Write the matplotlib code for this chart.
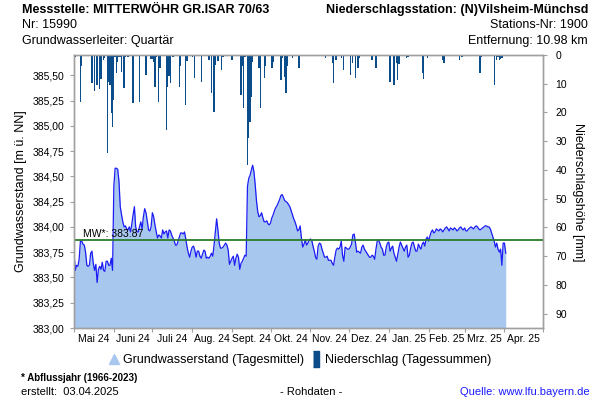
import matplotlib
matplotlib.use("Agg")
import matplotlib.pyplot as plt
import matplotlib.dates as mdates
from matplotlib.lines import Line2D
import pandas as pd

plt.rcParams['font.family'] = ['Liberation Sans', 'DejaVu Sans']

# Groundwater level, daily means from 2024-05-01 (m ü. NN)
start = pd.Timestamp('2024-05-01')
level = [
    383.74, 383.57, 383.62, 383.61, 383.68, 383.86, 383.86, 383.83, 383.82, 383.75,
    383.62, 383.61, 383.62, 383.74, 383.76, 383.64, 383.57, 383.63, 383.45, 383.58,
    383.61, 383.58, 383.65, 383.57, 383.56, 383.66, 383.66, 383.62, 383.62, 383.69,
    383.57, 384.40, 384.58, 384.58, 384.57, 384.45, 384.20, 384.12, 384.05, 384.00,
    384.01, 383.98, 383.97, 384.00, 383.95, 384.03, 384.12, 384.20, 384.00, 383.95,
    383.95, 384.00, 384.05, 383.98, 384.10, 384.18, 384.14, 384.06, 383.97, 383.96,
    384.00, 384.14, 384.10, 384.02, 383.95, 383.89, 383.92, 383.91, 383.89, 383.97,
    383.93, 383.95, 383.96, 383.89, 383.97, 383.96, 383.92, 383.89, 383.86, 383.82,
    383.82, 383.86, 383.90, 383.94, 383.94, 383.93, 383.95, 383.88, 383.80, 383.74,
    383.70, 383.76, 383.80, 383.81, 383.77, 383.70, 383.76, 383.76, 383.71, 383.69,
    383.73, 383.77, 383.76, 383.69, 383.70, 383.69, 383.71, 383.74, 383.71, 383.82,
    383.95, 384.08, 383.97, 383.84, 383.79, 383.79, 383.80, 383.82, 383.84, 383.82,
    383.77, 383.63, 383.66, 383.69, 383.71, 383.62, 383.69, 383.73, 383.70, 383.58,
    383.64, 383.66, 383.69, 383.72, 383.71, 384.40, 384.48, 384.51, 384.56, 384.61,
    384.55, 384.42, 384.26, 384.15, 384.10, 384.11, 384.14, 384.09, 384.05, 384.05,
    384.06, 384.03, 384.02, 384.04, 384.09, 384.12, 384.16, 384.19, 384.21, 384.24,
    384.27, 384.31, 384.32, 384.29, 384.26, 384.25, 384.24, 384.22, 384.20, 384.16,
    384.12, 384.08, 384.05, 384.01, 383.96, 383.97, 384.01, 383.89, 383.80, 383.83,
    383.87, 383.82, 383.84, 383.87, 383.88, 383.87, 383.81, 383.76, 383.70, 383.68,
    383.81, 383.84, 383.83, 383.78, 383.74, 383.70, 383.70, 383.71, 383.67, 383.67,
    383.67, 383.64, 383.62, 383.70, 383.77, 383.79, 383.78, 383.80, 383.86, 383.72,
    383.66, 383.80, 383.79, 383.78, 383.78, 383.80, 383.83, 383.92, 383.93, 383.85,
    383.75, 383.76, 383.75, 383.74, 383.80, 383.82, 383.78, 383.76, 383.74, 383.72,
    383.70, 383.70, 383.72, 383.71, 383.68, 383.78, 383.86, 383.87, 383.84, 383.80,
    383.78, 383.72, 383.72, 383.80, 383.84, 383.85, 383.76, 383.79, 383.81, 383.74,
    383.70, 383.66, 383.73, 383.80, 383.85, 383.82, 383.79, 383.76, 383.80, 383.82,
    383.70, 383.72, 383.79, 383.84, 383.85, 383.80, 383.76, 383.76, 383.83, 383.80,
    383.78, 383.83, 383.85, 383.81, 383.88, 383.90, 383.86, 383.91, 383.95, 383.97,
    383.94, 383.95, 383.98, 383.97, 383.96, 383.98, 383.97, 383.95, 383.97, 383.99,
    384.00, 383.98, 383.96, 383.99, 383.98, 383.97, 383.99, 383.98, 383.96, 383.97,
    383.99, 384.00, 383.98, 383.97, 383.99, 383.96, 383.96, 383.98, 383.99, 384.00,
    383.99, 383.98, 384.00, 384.01, 384.00, 383.98, 383.97, 383.98, 383.99, 384.00,
    384.01, 384.01, 384.00, 384.00, 383.98, 383.94, 383.90, 383.86, 383.80, 383.84,
    383.78, 383.75, 383.78, 383.62, 383.84, 383.84, 383.74,
]

# Daily precipitation sums (day offset from start, mm)
precip_day = [
    1, 5, 6, 14, 16, 18, 20, 21, 23, 24, 26, 27, 28, 29, 30, 31, 32, 33, 34, 35,
    36, 37, 39, 40, 42, 44, 46, 51, 56, 60, 61, 62, 63, 64, 66, 67, 72, 73, 74, 75,
    77, 82, 83, 87, 88, 92, 94, 99, 105, 107, 109, 110, 112, 115, 116, 123, 130, 131, 132, 133,
    135, 136, 137, 138, 139, 144, 145, 148, 149, 152, 154, 155, 161, 162, 164, 165, 166, 170, 175, 190,
    196, 201, 202, 204, 208, 210, 212, 215, 217, 219, 221, 222, 228, 232, 235, 246, 249, 251, 252, 253,
    259, 260, 267, 271, 272, 275, 287, 288, 300, 302, 316, 317, 327, 329, 330, 331, 332, 333,
]
precip_mm = [
    0.7, 16.3, 4.0, 9.6, 12.4, 10.5, 12.0, 8.4, 1.7, 1.2, 34.0, 9.3, 10.5, 20.3, 25.0, 15.7, 0.6, 6.4, 2.3, 0.6,
    0.6, 5.8, 11.5, 0.6, 0.6, 0.3, 16.7, 16.3, 7.0, 1.5, 1.5, 2.3, 11.0, 0.6, 16.3, 4.6, 26.0, 11.0, 7.3, 9.9,
    0.6, 11.0, 4.0, 17.4, 2.0, 0.6, 8.1, 9.3, 1.7, 13.3, 19.8, 3.5, 2.0, 5.2, 0.8, 1.7, 14.0, 4.0, 18.6, 0.6,
    38.3, 29.0, 23.2, 14.5, 2.3, 4.6, 18.6, 8.1, 4.0, 0.5, 4.6, 2.3, 8.7, 1.0, 7.5, 13.3, 4.0, 1.0, 4.6, 0.3,
    1.0, 2.9, 9.9, 1.7, 1.0, 5.2, 0.5, 7.0, 2.9, 8.1, 4.6, 1.0, 0.5, 1.7, 4.6, 9.3, 10.5, 2.9, 8.7, 3.2,
    1.0, 0.6, 0.2, 6.4, 8.5, 1.0, 1.9, 2.9, 1.9, 0.6, 6.4, 0.6, 10.5, 1.9, 0.8, 1.9, 1.3, 1.0,
]

mean_level = 383.87
month_labels = ['Mai 24', 'Juni 24', 'Juli 24', 'Aug. 24', 'Sept. 24', 'Okt. 24',
                'Nov. 24', 'Dez. 24', 'Jan. 25', 'Feb. 25', 'Mrz. 25', 'Apr. 25']

dates = pd.date_range(start, periods=len(level), freq='D')
p_dates = [start + pd.Timedelta(days=d) for d in precip_day]
month_starts = pd.date_range('2024-05-01', '2025-05-01', freq='MS')
month_mids = [a + (b - a) / 2 for a, b in zip(month_starts[:-1], month_starts[1:])]

grey = '#a0a0a0'
fig = plt.figure(figsize=(6, 4), dpi=100)
ax = fig.add_axes([74 / 600, 72 / 400, 469 / 600, 273 / 400])

ax.fill_between(dates, level, 383.0, color='#a7c7ee', lw=0, zorder=1)
ax.plot(dates, level, color='#1c1cf5', lw=0.9, zorder=3)
ax.axhline(mean_level, color='#2a7d2a', lw=1.3, zorder=4)
ax.annotate('MW*: 383.87', xy=(0.02, mean_level), xycoords=('axes fraction', 'data'),
            xytext=(0, 0.5), textcoords='offset points', fontsize=7.5, va='bottom', zorder=5)

ax.set_xlim(month_starts[0], month_starts[-1])
ax.set_ylim(383.0, 385.70)
ax.set_yticks([383.0 + 0.25 * i for i in range(11)])
ax.set_yticklabels([f'{383.0 + 0.25 * i:.2f}'.replace('.', ',') for i in range(11)])
ax.set_xticks(month_starts)
ax.set_xticklabels([])
ax.set_xticks(month_mids, minor=True)
ax.set_xticklabels(month_labels, minor=True)
ax.tick_params(axis='x', which='major', length=3, color=grey)
ax.tick_params(axis='x', which='minor', length=0, pad=4, labelsize=7.5)
ax.tick_params(axis='y', length=3, color=grey, pad=4, labelsize=7.5)

ax2 = ax.twinx()
ax2.bar(p_dates, precip_mm, width=1.0, color='#0b4c8a', lw=0, zorder=2)
ax2.set_ylim(95, 0)
ax2.set_yticks(range(0, 100, 10))
ax2.tick_params(axis='y', length=3, color=grey, pad=6, labelsize=7.5)
ax2.set_xlim(month_starts[0], month_starts[-1])

for a in (ax, ax2):
    for s in a.spines.values():
        s.set_color(grey)
        s.set_linewidth(1)

fig.text(21 / 600, 1 - 191 / 400, 'Grundwasserstand [m ü. NN]', rotation=90,
         ha='center', va='center', fontsize=9)
fig.text(578 / 600, 1 - 192 / 400, 'Niederschlagshöhe [mm]', rotation=270,
         ha='center', va='center', fontsize=9)

# header
fig.text(22 / 600, 1 - 10 / 400, 'Messstelle: MITTERWÖHR GR.ISAR 70/63',
         fontsize=9, fontweight='bold', va='center')
fig.text(22 / 600, 1 - 25 / 400, 'Nr: 15990', fontsize=9, va='center')
fig.text(22 / 600, 1 - 41 / 400, 'Grundwasserleiter: Quartär', fontsize=9, va='center')
fig.text(588 / 600, 1 - 10 / 400, 'Niederschlagsstation: (N)Vilsheim-Münchsd',
         fontsize=9, fontweight='bold', va='center', ha='right')
fig.text(588 / 600, 1 - 25 / 400, 'Stations-Nr: 1900', fontsize=9, va='center', ha='right')
fig.text(588 / 600, 1 - 41 / 400, 'Entfernung: 10.98 km', fontsize=9, va='center', ha='right')

# legend
rect = [(-0.35, -1), (0.35, -1), (0.35, 1), (-0.35, 1)]
handles = [Line2D([], [], ls='', marker='^', markersize=7, color='#a7c7ee'),
           Line2D([], [], ls='', marker=rect, markersize=11, color='#0b4c8a')]
fig.legend(handles, ['Grundwasserstand (Tagesmittel)', 'Niederschlag (Tagessummen)'],
           loc='center', bbox_to_anchor=(0.5, 1 - 360 / 400), ncol=2, frameon=False,
           fontsize=9, handlelength=0.8, handletextpad=0.3, columnspacing=0.6)

# footer
fig.text(21 / 600, 1 - 378 / 400, '* Abflussjahr (1966-2023)', fontsize=7,
         fontweight='bold', va='center')
fig.text(21 / 600, 1 - 392 / 400, 'erstellt:  03.04.2025', fontsize=8, va='center')
fig.text(311 / 600, 1 - 392 / 400, '- Rohdaten -', fontsize=8, va='center', ha='center')
fig.text(590 / 600, 1 - 392 / 400, 'Quelle: www.lfu.bayern.de', fontsize=8, va='center',
         ha='right', color='#1a1aff')

fig.savefig('out.png', dpi=100)
